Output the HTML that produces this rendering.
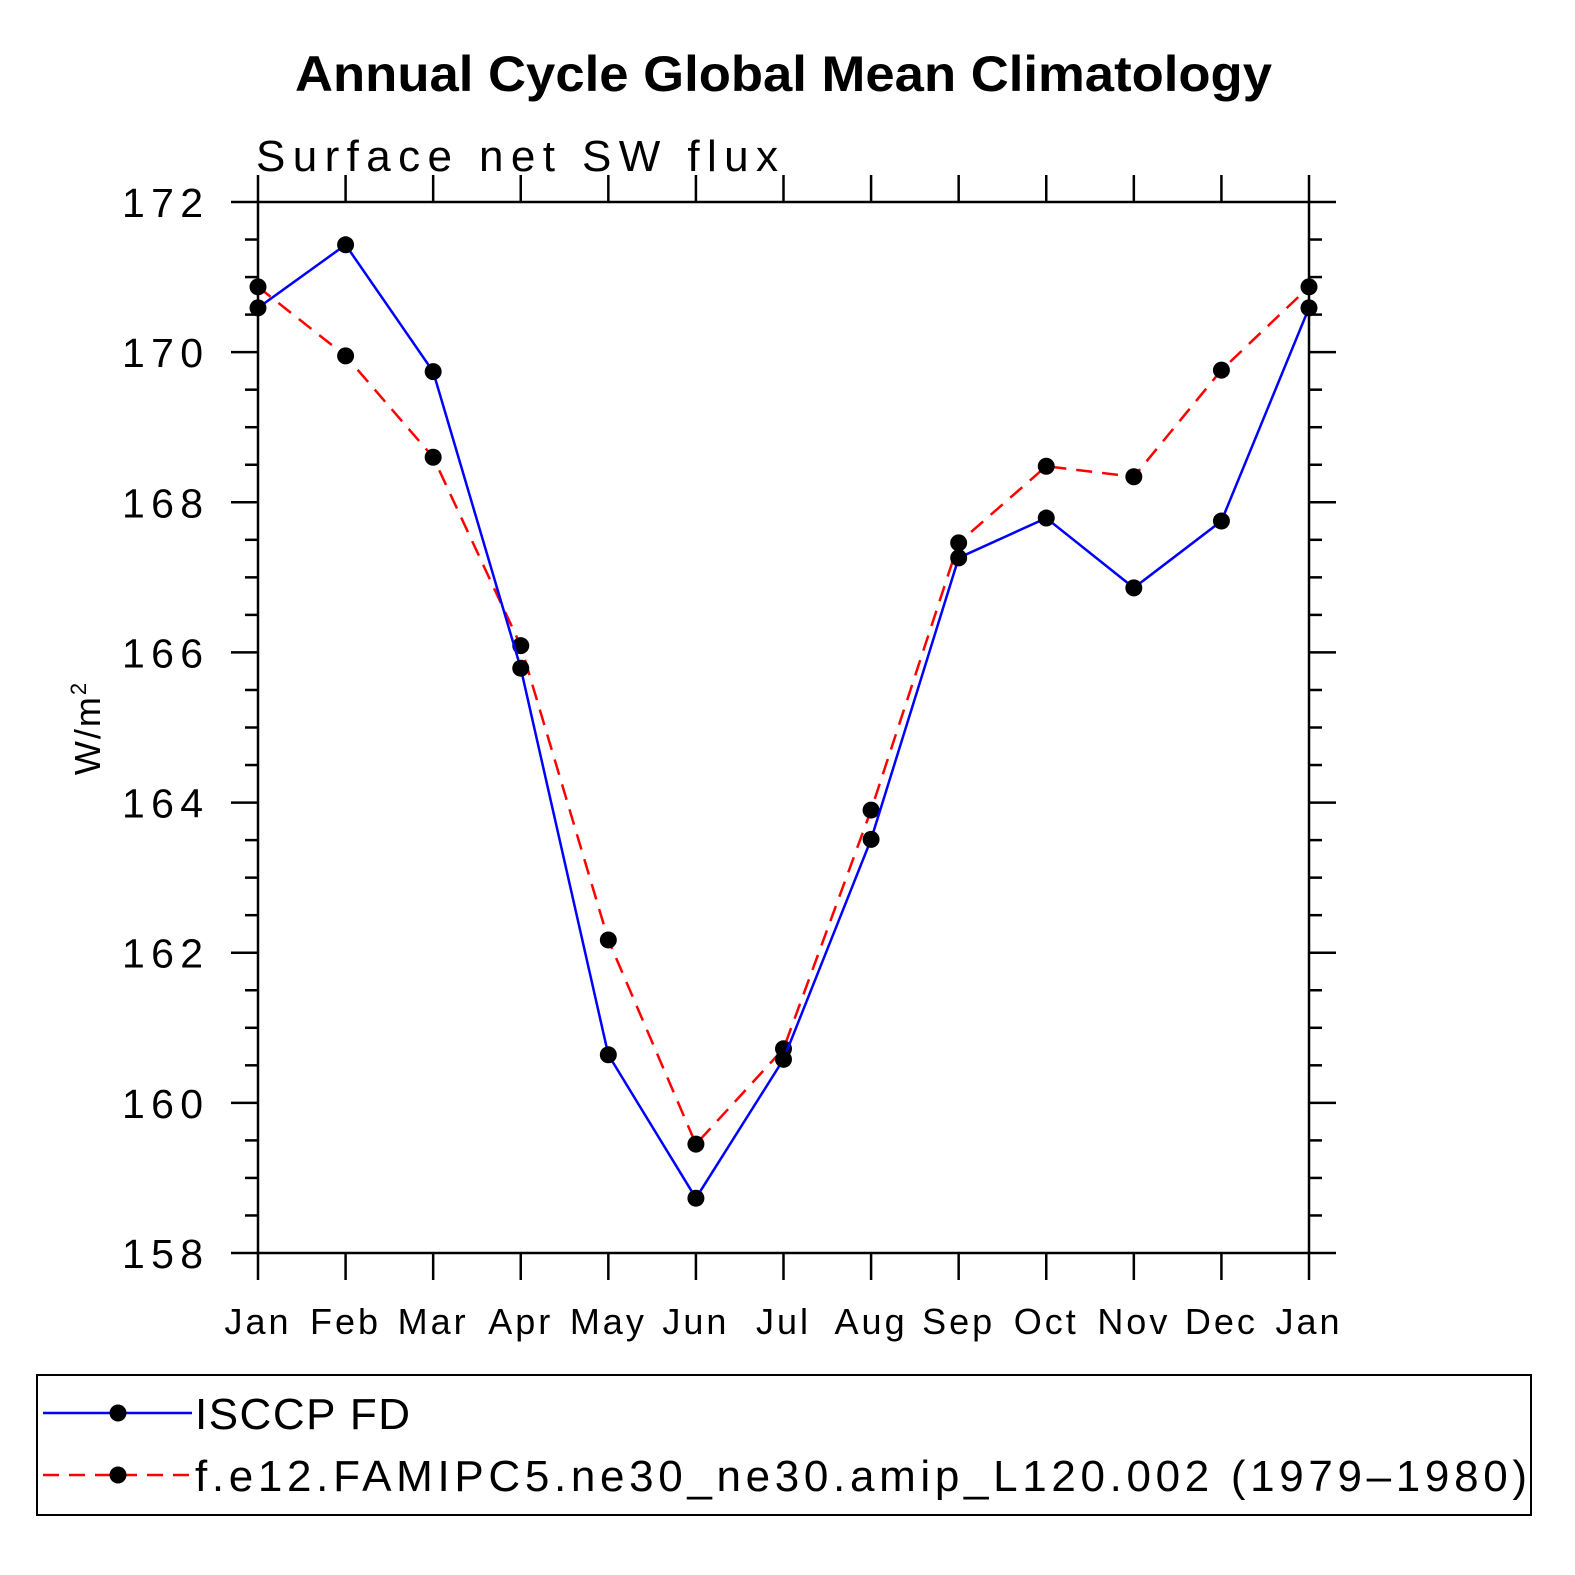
<!DOCTYPE html>
<html><head><meta charset="utf-8"><style>
body{margin:0;background:#fff}
svg{display:block;font-family:"Liberation Sans",sans-serif}
</style></head><body>
<svg id="chart" width="1575" height="1575" viewBox="0 0 1575 1575" xmlns="http://www.w3.org/2000/svg">
<text x="295" y="91" font-size="50" font-weight="bold" textLength="977" lengthAdjust="spacingAndGlyphs">Annual Cycle Global Mean Climatology</text>
<text x="256" y="171" font-size="44" textLength="522" lengthAdjust="spacing">Surface net SW flux</text>
<text transform="translate(100,728) rotate(-90)" font-size="36" text-anchor="middle" letter-spacing="2">W/m<tspan font-size="22" dy="-14">2</tspan></text>
<g id="axes"></g>
<g id="series"></g>
<rect x="37" y="1375" width="1494" height="140" fill="none" stroke="#000" stroke-width="2"/>
<g>
<line x1="43" y1="1413" x2="192" y2="1413" stroke="#0000ff" stroke-width="2.5"/>
<circle cx="118" cy="1413" r="8.5"/>
<text x="195" y="1429" font-size="44" textLength="215" lengthAdjust="spacing">ISCCP FD</text></g>
<g>
<line x1="43" y1="1475" x2="192" y2="1475" stroke="#ff0000" stroke-width="2.5" stroke-dasharray="16,10"/>
<circle cx="118" cy="1475" r="8.5"/>
<text x="195" y="1491" font-size="44" textLength="1332" lengthAdjust="spacing">f.e12.FAMIPC5.ne30_ne30.amip_L120.002 (1979–1980)</text></g>
</svg>
<script>
const months=["Jan","Feb","Mar","Apr","May","Jun","Jul","Aug","Sep","Oct","Nov","Dec","Jan"];
const isccp=[170.59,171.43,169.74,165.79,160.64,158.73,160.58,163.51,167.26,167.79,166.86,167.75,170.59];
const model=[170.87,169.95,168.60,166.09,162.17,159.45,160.72,163.90,167.46,168.48,168.34,169.76,170.87];
const yTicks=[158,160,162,164,166,168,170,172];
const X0=258,X1=1309,Y0=1253,Y1=202,VMIN=158,VMAX=172;
const xs=i=>X0+(X1-X0)*i/12;
const ys=v=>Y0-(v-VMIN)/(VMAX-VMIN)*(Y0-Y1);
const NS="http://www.w3.org/2000/svg";
function mk(p,t,a){const e=document.createElementNS(NS,t);for(const k in a)e.setAttribute(k,a[k]);p.appendChild(e);return e;}
const ax=document.getElementById('axes');
const frame=mk(ax,'rect',{x:X0,y:Y1,width:X1-X0,height:Y0-Y1,fill:'none',stroke:'#000','stroke-width':2.5});


for(let v=VMIN;v<=VMAX+1e-6;v+=0.5){
 const y=ys(v),maj=Math.abs(v-Math.round(v/2)*2)<1e-6;
 const L=maj?27:13;
 mk(ax,'line',{x1:X0-L,y1:y,x2:X0,y2:y,stroke:'#000','stroke-width':2.5});
 mk(ax,'line',{x1:X1,y1:y,x2:X1+L,y2:y,stroke:'#000','stroke-width':2.5});
}
yTicks.forEach(v=>{
 const t=mk(ax,'text',{x:122,y:ys(v)+15,'font-size':41,textLength:81,lengthAdjust:'spacing'});
 t.textContent=v;
 
 
});
months.forEach((m,i)=>{
 const x=xs(i);
 mk(ax,'line',{x1:x,y1:Y0,x2:x,y2:Y0+27,stroke:'#000','stroke-width':2.5});
 mk(ax,'line',{x1:x,y1:Y1-27,x2:x,y2:Y1,stroke:'#000','stroke-width':2.5});
 const t=mk(ax,'text',{x:x,y:1334,'font-size':36,'text-anchor':'middle','letter-spacing':3});
 t.textContent=m;
 
 
});
const sg=document.getElementById('series');
function series(vals,color,dash,name){
 const g=mk(sg,'g',{});
 
 
 const a={points:vals.map((v,i)=>xs(i)+','+ys(v)).join(' '),fill:'none',stroke:color,'stroke-width':2.5};
 if(dash)a['stroke-dasharray']=dash;
 mk(g,'polyline',a);
 vals.forEach((v,i)=>{
  const c=mk(g,'circle',{cx:xs(i),cy:ys(v),r:8.5,fill:'#000'});
  
  
 });
}
series(model,'#ff0000','16,10','model-series');
series(isccp,'#0000ff',null,'isccp-series');
</script>
</body></html>
